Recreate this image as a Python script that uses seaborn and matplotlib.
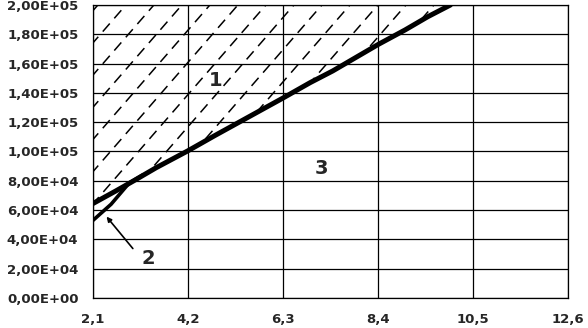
import numpy as np
import pandas as pd
import matplotlib
matplotlib.use("Agg")
import matplotlib.pyplot as plt
import seaborn as sns
from matplotlib.ticker import FuncFormatter, FixedLocator

# ---- data ----
x_curve3 = [2.1, 2.6, 3.0, 3.5, 4.2, 4.8, 5.3, 5.8, 6.3, 6.9, 7.4, 7.9, 8.4, 9.0, 9.5, 10.0]
y_curve3 = [64500, 73000, 80000, 89000, 100500, 111000, 119500, 128000, 136500,
            147000, 155000, 164000, 173000, 183000, 192000, 200000]
x_curve2 = [2.1, 2.5, 2.9, 3.2]
y_curve2 = [53000, 64000, 78500, 84000]
x_ticks = [2.1, 4.2, 6.3, 8.4, 10.5, 12.6]
y_ticks = [0, 20000, 40000, 60000, 80000, 100000, 120000, 140000, 160000, 180000, 200000]
region_labels = ["1", "2", "3"]
region_label_x = [4.80, 3.32, 7.16]
region_label_y = [148800, 27300, 88700]
arrow_tip = (2.36, 57000)

sns.set_style("white")
plt.rcParams["font.family"] = ["DejaVu Sans"]

fig = plt.figure(figsize=(5.88, 3.28), dpi=100)
ax = fig.add_axes([93 / 588, 1 - 298 / 328, 475 / 588, 293 / 328])

df3 = pd.DataFrame({"x": x_curve3, "y": y_curve3})
df2 = pd.DataFrame({"x": x_curve2, "y": y_curve2})

ax.set_xlim(x_ticks[0], x_ticks[-1])
ax.set_ylim(y_ticks[0], y_ticks[-1])

# hatched region 1 (above curve 3), dashed diagonal hatch clipped to the region
poly = ax.fill_between(x_curve3, y_curve3, y_ticks[-1], facecolor="none", edgecolor="none")
clip_path = poly.get_paths()[0]
px_per_x = 475 / (x_ticks[-1] - x_ticks[0])
px_per_y = 293 / (y_ticks[-1] - y_ticks[0])
slope_px = 1.15
slope = slope_px * px_per_x / px_per_y
spacing = 28 / px_per_x
for x0 in np.arange(x_ticks[0] - 8, x_ticks[-1] + 1, spacing):
    xs = np.array([x0, x0 + 8])
    ys = y_ticks[0] + slope * (xs - x0)
    ln, = ax.plot(xs, ys, color="black", lw=1.1, ls=(0, (7, 4.5)), zorder=2)
    ln.set_clip_path(clip_path, ax.transData)

sns.lineplot(data=df3, x="x", y="y", ax=ax, color="black", lw=3.6, sort=False, zorder=4)
sns.lineplot(data=df2, x="x", y="y", ax=ax, color="black", lw=2.6, sort=False, zorder=4)

ax.xaxis.set_major_locator(FixedLocator(x_ticks))
ax.yaxis.set_major_locator(FixedLocator(y_ticks))
ax.xaxis.set_major_formatter(FuncFormatter(lambda v, p: f"{v:.1f}".replace(".", ",")))
ax.yaxis.set_major_formatter(FuncFormatter(lambda v, p: f"{v:.2E}".replace(".", ",")))
ax.grid(True, color="black", lw=0.9)
ax.set_axisbelow(True)
for s in ax.spines.values():
    s.set_color("black")
    s.set_linewidth(0.9)
ax.tick_params(axis="both", direction="out", length=4, width=0.9, color="black",
               labelsize=9.5)
ax.tick_params(axis="y", pad=6.5)
ax.tick_params(axis="x", pad=6.5)
for lab in ax.get_xticklabels() + ax.get_yticklabels():
    lab.set_fontweight("bold")
ax.set_xlabel("")
ax.set_ylabel("")

for t, x, y in zip(region_labels, region_label_x, region_label_y):
    ax.text(x, y, t, fontsize=14, fontweight="bold", ha="center", va="center", zorder=5)

ax.annotate("", xy=arrow_tip, xytext=(region_label_x[1] - 0.3, region_label_y[1] + 5000),
            arrowprops=dict(arrowstyle="-|>", color="black", lw=1.2, mutation_scale=7),
            zorder=5)

fig.savefig("out.png", dpi=100, facecolor="white")
